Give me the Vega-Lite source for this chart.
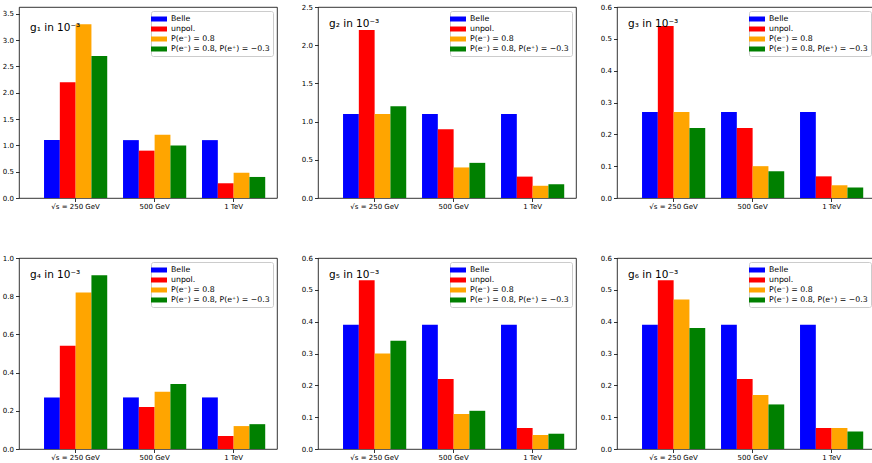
{
  "$schema": "https://vega.github.io/schema/vega-lite/v6.json",
  "padding": {"left": 1, "top": 2, "right": 2, "bottom": 2},
  "data": {
    "values": [
      {"coupling": "g1", "energy": "√s = 250 GeV", "setup": "Belle", "value": 1.1},
      {"coupling": "g1", "energy": "500 GeV", "setup": "Belle", "value": 1.1},
      {"coupling": "g1", "energy": "1 TeV", "setup": "Belle", "value": 1.1},
      {"coupling": "g1", "energy": "√s = 250 GeV", "setup": "unpol.", "value": 2.2},
      {"coupling": "g1", "energy": "500 GeV", "setup": "unpol.", "value": 0.9},
      {"coupling": "g1", "energy": "1 TeV", "setup": "unpol.", "value": 0.28},
      {"coupling": "g1", "energy": "√s = 250 GeV", "setup": "P(e⁻) = 0.8", "value": 3.3},
      {"coupling": "g1", "energy": "500 GeV", "setup": "P(e⁻) = 0.8", "value": 1.2},
      {"coupling": "g1", "energy": "1 TeV", "setup": "P(e⁻) = 0.8", "value": 0.48},
      {"coupling": "g1", "energy": "√s = 250 GeV", "setup": "P(e⁻) = 0.8, P(e⁺) = −0.3", "value": 2.7},
      {"coupling": "g1", "energy": "500 GeV", "setup": "P(e⁻) = 0.8, P(e⁺) = −0.3", "value": 1.0},
      {"coupling": "g1", "energy": "1 TeV", "setup": "P(e⁻) = 0.8, P(e⁺) = −0.3", "value": 0.4},

      {"coupling": "g2", "energy": "√s = 250 GeV", "setup": "Belle", "value": 1.1},
      {"coupling": "g2", "energy": "500 GeV", "setup": "Belle", "value": 1.1},
      {"coupling": "g2", "energy": "1 TeV", "setup": "Belle", "value": 1.1},
      {"coupling": "g2", "energy": "√s = 250 GeV", "setup": "unpol.", "value": 2.2},
      {"coupling": "g2", "energy": "500 GeV", "setup": "unpol.", "value": 0.9},
      {"coupling": "g2", "energy": "1 TeV", "setup": "unpol.", "value": 0.28},
      {"coupling": "g2", "energy": "√s = 250 GeV", "setup": "P(e⁻) = 0.8", "value": 1.1},
      {"coupling": "g2", "energy": "500 GeV", "setup": "P(e⁻) = 0.8", "value": 0.4},
      {"coupling": "g2", "energy": "1 TeV", "setup": "P(e⁻) = 0.8", "value": 0.16},
      {"coupling": "g2", "energy": "√s = 250 GeV", "setup": "P(e⁻) = 0.8, P(e⁺) = −0.3", "value": 1.2},
      {"coupling": "g2", "energy": "500 GeV", "setup": "P(e⁻) = 0.8, P(e⁺) = −0.3", "value": 0.46},
      {"coupling": "g2", "energy": "1 TeV", "setup": "P(e⁻) = 0.8, P(e⁺) = −0.3", "value": 0.18},

      {"coupling": "g3", "energy": "√s = 250 GeV", "setup": "Belle", "value": 0.27},
      {"coupling": "g3", "energy": "500 GeV", "setup": "Belle", "value": 0.27},
      {"coupling": "g3", "energy": "1 TeV", "setup": "Belle", "value": 0.27},
      {"coupling": "g3", "energy": "√s = 250 GeV", "setup": "unpol.", "value": 0.54},
      {"coupling": "g3", "energy": "500 GeV", "setup": "unpol.", "value": 0.22},
      {"coupling": "g3", "energy": "1 TeV", "setup": "unpol.", "value": 0.068},
      {"coupling": "g3", "energy": "√s = 250 GeV", "setup": "P(e⁻) = 0.8", "value": 0.27},
      {"coupling": "g3", "energy": "500 GeV", "setup": "P(e⁻) = 0.8", "value": 0.1},
      {"coupling": "g3", "energy": "1 TeV", "setup": "P(e⁻) = 0.8", "value": 0.04},
      {"coupling": "g3", "energy": "√s = 250 GeV", "setup": "P(e⁻) = 0.8, P(e⁺) = −0.3", "value": 0.22},
      {"coupling": "g3", "energy": "500 GeV", "setup": "P(e⁻) = 0.8, P(e⁺) = −0.3", "value": 0.084},
      {"coupling": "g3", "energy": "1 TeV", "setup": "P(e⁻) = 0.8, P(e⁺) = −0.3", "value": 0.033},

      {"coupling": "g4", "energy": "√s = 250 GeV", "setup": "Belle", "value": 0.27},
      {"coupling": "g4", "energy": "500 GeV", "setup": "Belle", "value": 0.27},
      {"coupling": "g4", "energy": "1 TeV", "setup": "Belle", "value": 0.27},
      {"coupling": "g4", "energy": "√s = 250 GeV", "setup": "unpol.", "value": 0.54},
      {"coupling": "g4", "energy": "500 GeV", "setup": "unpol.", "value": 0.22},
      {"coupling": "g4", "energy": "1 TeV", "setup": "unpol.", "value": 0.068},
      {"coupling": "g4", "energy": "√s = 250 GeV", "setup": "P(e⁻) = 0.8", "value": 0.82},
      {"coupling": "g4", "energy": "500 GeV", "setup": "P(e⁻) = 0.8", "value": 0.3},
      {"coupling": "g4", "energy": "1 TeV", "setup": "P(e⁻) = 0.8", "value": 0.12},
      {"coupling": "g4", "energy": "√s = 250 GeV", "setup": "P(e⁻) = 0.8, P(e⁺) = −0.3", "value": 0.91},
      {"coupling": "g4", "energy": "500 GeV", "setup": "P(e⁻) = 0.8, P(e⁺) = −0.3", "value": 0.34},
      {"coupling": "g4", "energy": "1 TeV", "setup": "P(e⁻) = 0.8, P(e⁺) = −0.3", "value": 0.13},

      {"coupling": "g5", "energy": "√s = 250 GeV", "setup": "Belle", "value": 0.39},
      {"coupling": "g5", "energy": "500 GeV", "setup": "Belle", "value": 0.39},
      {"coupling": "g5", "energy": "1 TeV", "setup": "Belle", "value": 0.39},
      {"coupling": "g5", "energy": "√s = 250 GeV", "setup": "unpol.", "value": 0.53},
      {"coupling": "g5", "energy": "500 GeV", "setup": "unpol.", "value": 0.22},
      {"coupling": "g5", "energy": "1 TeV", "setup": "unpol.", "value": 0.066},
      {"coupling": "g5", "energy": "√s = 250 GeV", "setup": "P(e⁻) = 0.8", "value": 0.3},
      {"coupling": "g5", "energy": "500 GeV", "setup": "P(e⁻) = 0.8", "value": 0.11},
      {"coupling": "g5", "energy": "1 TeV", "setup": "P(e⁻) = 0.8", "value": 0.044},
      {"coupling": "g5", "energy": "√s = 250 GeV", "setup": "P(e⁻) = 0.8, P(e⁺) = −0.3", "value": 0.34},
      {"coupling": "g5", "energy": "500 GeV", "setup": "P(e⁻) = 0.8, P(e⁺) = −0.3", "value": 0.12},
      {"coupling": "g5", "energy": "1 TeV", "setup": "P(e⁻) = 0.8, P(e⁺) = −0.3", "value": 0.048},

      {"coupling": "g6", "energy": "√s = 250 GeV", "setup": "Belle", "value": 0.39},
      {"coupling": "g6", "energy": "500 GeV", "setup": "Belle", "value": 0.39},
      {"coupling": "g6", "energy": "1 TeV", "setup": "Belle", "value": 0.39},
      {"coupling": "g6", "energy": "√s = 250 GeV", "setup": "unpol.", "value": 0.53},
      {"coupling": "g6", "energy": "500 GeV", "setup": "unpol.", "value": 0.22},
      {"coupling": "g6", "energy": "1 TeV", "setup": "unpol.", "value": 0.066},
      {"coupling": "g6", "energy": "√s = 250 GeV", "setup": "P(e⁻) = 0.8", "value": 0.47},
      {"coupling": "g6", "energy": "500 GeV", "setup": "P(e⁻) = 0.8", "value": 0.17},
      {"coupling": "g6", "energy": "1 TeV", "setup": "P(e⁻) = 0.8", "value": 0.066},
      {"coupling": "g6", "energy": "√s = 250 GeV", "setup": "P(e⁻) = 0.8, P(e⁺) = −0.3", "value": 0.38},
      {"coupling": "g6", "energy": "500 GeV", "setup": "P(e⁻) = 0.8, P(e⁺) = −0.3", "value": 0.14},
      {"coupling": "g6", "energy": "1 TeV", "setup": "P(e⁻) = 0.8, P(e⁺) = −0.3", "value": 0.055}
    ]
  },
  "columns": 3,
  "spacing": {"column": 22, "row": 43},
  "resolve": {
    "scale": {"y": "independent", "color": "independent"},
    "legend": {"color": "independent"}
  },
  "concat": [
    {
      "width": 258, "height": 191,
      "title": {"text": "g₁ in 10⁻³"},
      "transform": [{"filter": "datum.coupling === 'g1'"}],
      "mark": "bar",
      "encoding": {
        "x": {"field": "energy", "type": "nominal", "sort": ["√s = 250 GeV", "500 GeV", "1 TeV"], "scale": {"paddingInner": 0.2, "paddingOuter": 0.233, "align": 0.68}},
        "xOffset": {"field": "setup", "type": "nominal", "sort": ["Belle", "unpol.", "P(e⁻) = 0.8", "P(e⁻) = 0.8, P(e⁺) = −0.3"], "scale": {"paddingInner": 0, "paddingOuter": 0}},
        "y": {"field": "value", "type": "quantitative", "scale": {"domain": [0, 3.63], "nice": false}, "axis": {"values": [0, 0.5, 1, 1.5, 2, 2.5, 3, 3.5]}},
        "color": {"field": "setup", "type": "nominal", "scale": {"domain": ["Belle", "unpol.", "P(e⁻) = 0.8", "P(e⁻) = 0.8, P(e⁺) = −0.3"], "range": ["#0000ff", "#ff0000", "#ffa500", "#008000"]}}
      }
    },
    {
      "width": 258, "height": 191,
      "title": {"text": "g₂ in 10⁻³"},
      "transform": [{"filter": "datum.coupling === 'g2'"}],
      "mark": "bar",
      "encoding": {
        "x": {"field": "energy", "type": "nominal", "sort": ["√s = 250 GeV", "500 GeV", "1 TeV"], "scale": {"paddingInner": 0.2, "paddingOuter": 0.233, "align": 0.68}},
        "xOffset": {"field": "setup", "type": "nominal", "sort": ["Belle", "unpol.", "P(e⁻) = 0.8", "P(e⁻) = 0.8, P(e⁺) = −0.3"], "scale": {"paddingInner": 0, "paddingOuter": 0}},
        "y": {"field": "value", "type": "quantitative", "scale": {"domain": [0, 2.5], "nice": false}, "axis": {"values": [0, 0.5, 1, 1.5, 2, 2.5]}},
        "color": {"field": "setup", "type": "nominal", "scale": {"domain": ["Belle", "unpol.", "P(e⁻) = 0.8", "P(e⁻) = 0.8, P(e⁺) = −0.3"], "range": ["#0000ff", "#ff0000", "#ffa500", "#008000"]}}
      }
    },
    {
      "width": 258, "height": 191,
      "title": {"text": "g₃ in 10⁻³"},
      "transform": [{"filter": "datum.coupling === 'g3'"}],
      "mark": "bar",
      "encoding": {
        "x": {"field": "energy", "type": "nominal", "sort": ["√s = 250 GeV", "500 GeV", "1 TeV"], "scale": {"paddingInner": 0.2, "paddingOuter": 0.233, "align": 0.68}},
        "xOffset": {"field": "setup", "type": "nominal", "sort": ["Belle", "unpol.", "P(e⁻) = 0.8", "P(e⁻) = 0.8, P(e⁺) = −0.3"], "scale": {"paddingInner": 0, "paddingOuter": 0}},
        "y": {"field": "value", "type": "quantitative", "scale": {"domain": [0, 0.6], "nice": false}, "axis": {"values": [0, 0.1, 0.2, 0.3, 0.4, 0.5, 0.6]}},
        "color": {"field": "setup", "type": "nominal", "scale": {"domain": ["Belle", "unpol.", "P(e⁻) = 0.8", "P(e⁻) = 0.8, P(e⁺) = −0.3"], "range": ["#0000ff", "#ff0000", "#ffa500", "#008000"]}}
      }
    },
    {
      "width": 258, "height": 191,
      "title": {"text": "g₄ in 10⁻³"},
      "transform": [{"filter": "datum.coupling === 'g4'"}],
      "mark": "bar",
      "encoding": {
        "x": {"field": "energy", "type": "nominal", "sort": ["√s = 250 GeV", "500 GeV", "1 TeV"], "scale": {"paddingInner": 0.2, "paddingOuter": 0.233, "align": 0.68}},
        "xOffset": {"field": "setup", "type": "nominal", "sort": ["Belle", "unpol.", "P(e⁻) = 0.8", "P(e⁻) = 0.8, P(e⁺) = −0.3"], "scale": {"paddingInner": 0, "paddingOuter": 0}},
        "y": {"field": "value", "type": "quantitative", "scale": {"domain": [0, 1.0], "nice": false}, "axis": {"values": [0, 0.2, 0.4, 0.6, 0.8, 1.0]}},
        "color": {"field": "setup", "type": "nominal", "scale": {"domain": ["Belle", "unpol.", "P(e⁻) = 0.8", "P(e⁻) = 0.8, P(e⁺) = −0.3"], "range": ["#0000ff", "#ff0000", "#ffa500", "#008000"]}}
      }
    },
    {
      "width": 258, "height": 191,
      "title": {"text": "g₅ in 10⁻³"},
      "transform": [{"filter": "datum.coupling === 'g5'"}],
      "mark": "bar",
      "encoding": {
        "x": {"field": "energy", "type": "nominal", "sort": ["√s = 250 GeV", "500 GeV", "1 TeV"], "scale": {"paddingInner": 0.2, "paddingOuter": 0.233, "align": 0.68}},
        "xOffset": {"field": "setup", "type": "nominal", "sort": ["Belle", "unpol.", "P(e⁻) = 0.8", "P(e⁻) = 0.8, P(e⁺) = −0.3"], "scale": {"paddingInner": 0, "paddingOuter": 0}},
        "y": {"field": "value", "type": "quantitative", "scale": {"domain": [0, 0.6], "nice": false}, "axis": {"values": [0, 0.1, 0.2, 0.3, 0.4, 0.5, 0.6]}},
        "color": {"field": "setup", "type": "nominal", "scale": {"domain": ["Belle", "unpol.", "P(e⁻) = 0.8", "P(e⁻) = 0.8, P(e⁺) = −0.3"], "range": ["#0000ff", "#ff0000", "#ffa500", "#008000"]}}
      }
    },
    {
      "width": 258, "height": 191,
      "title": {"text": "g₆ in 10⁻³"},
      "transform": [{"filter": "datum.coupling === 'g6'"}],
      "mark": "bar",
      "encoding": {
        "x": {"field": "energy", "type": "nominal", "sort": ["√s = 250 GeV", "500 GeV", "1 TeV"], "scale": {"paddingInner": 0.2, "paddingOuter": 0.233, "align": 0.68}},
        "xOffset": {"field": "setup", "type": "nominal", "sort": ["Belle", "unpol.", "P(e⁻) = 0.8", "P(e⁻) = 0.8, P(e⁺) = −0.3"], "scale": {"paddingInner": 0, "paddingOuter": 0}},
        "y": {"field": "value", "type": "quantitative", "scale": {"domain": [0, 0.6], "nice": false}, "axis": {"values": [0, 0.1, 0.2, 0.3, 0.4, 0.5, 0.6]}},
        "color": {"field": "setup", "type": "nominal", "scale": {"domain": ["Belle", "unpol.", "P(e⁻) = 0.8", "P(e⁻) = 0.8, P(e⁺) = −0.3"], "range": ["#0000ff", "#ff0000", "#ffa500", "#008000"]}}
      }
    }
  ],
  "config": {
    "font": "DejaVu Sans",
    "view": {"stroke": "#000000", "strokeWidth": 0.8},
    "title": {"anchor": "start", "frame": "group", "dx": 11, "dy": 30, "fontSize": 10.5, "fontWeight": "normal", "color": "#000000", "font": "DejaVu Sans"},
    "axis": {
      "title": null, "grid": false, "domain": false,
      "labelFont": "DejaVu Sans", "labelFontSize": 7, "labelColor": "#000000",
      "tickColor": "#000000", "tickSize": 3.5, "tickWidth": 0.8, "labelPadding": 2
    },
    "axisX": {"labelAngle": 0, "labelPadding": 1},
    "axisY": {"format": ".1f"},
    "legend": {
      "orient": "top-right", "offset": 4, "padding": 3, "title": null,
      "strokeColor": "#cccccc", "fillColor": "#ffffff", "cornerRadius": 2,
      "labelFont": "DejaVu Sans", "labelFontSize": 7.8, "labelColor": "#000000",
      "symbolType": "M-1.6,-0.5H1.6V0.5H-1.6Z", "symbolSize": 100, "symbolStrokeWidth": 0,
      "rowPadding": 1, "labelOffset": 7
    }
  }
}
